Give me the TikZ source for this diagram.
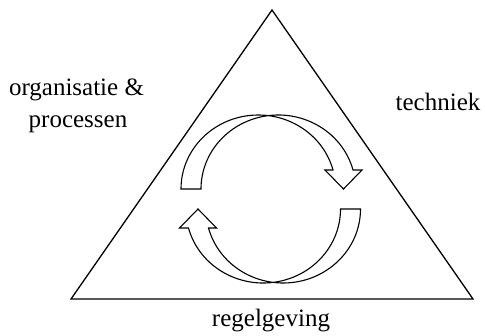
\documentclass[tikz,border=0pt]{standalone}
\usepackage{fontspec}
\setmainfont{Liberation Serif}
\begin{document}
\begin{tikzpicture}[x=1pt,y=1pt,
  edge/.style={draw=black,line width=1.1pt,line join=miter},
  lbl/.style={anchor=base,inner sep=0pt,font=\fontsize{25}{30}\selectfont}]
\useasboundingbox (0,0) rectangle (485,-335);
% triangle
\coordinate (apex) at (272,-10);
\coordinate (bl) at (71,-299);
\coordinate (br) at (473,-299);
\draw[edge,line width=1.3pt] (apex) -- (br) -- (bl) -- cycle;
% curved arrows
\newcommand{\arrowpath}{%
  (181,-189) arc[start angle=180,end angle=14.88,x radius=77.3pt,y radius=74pt]
  -- (325,-170) -- (343.5,-189) -- (362,-170) -- (353,-170)
  arc[start angle=14.88,end angle=180,x radius=77.3pt,y radius=74pt]
  -- cycle}
\draw[edge] \arrowpath;
\begin{scope}[rotate around={180:(270.75,-199)}]
\draw[edge] \arrowpath;
\end{scope}
% labels
\node[lbl] (org) at (76.5,-95) {organisatie \&};
\node[lbl] (proc) at (78,-127) {processen};
\node[lbl] (tech) at (438,-110) {techniek};
\node[lbl] (reg) at (271,-326) {regelgeving};
\end{tikzpicture}
\end{document}
